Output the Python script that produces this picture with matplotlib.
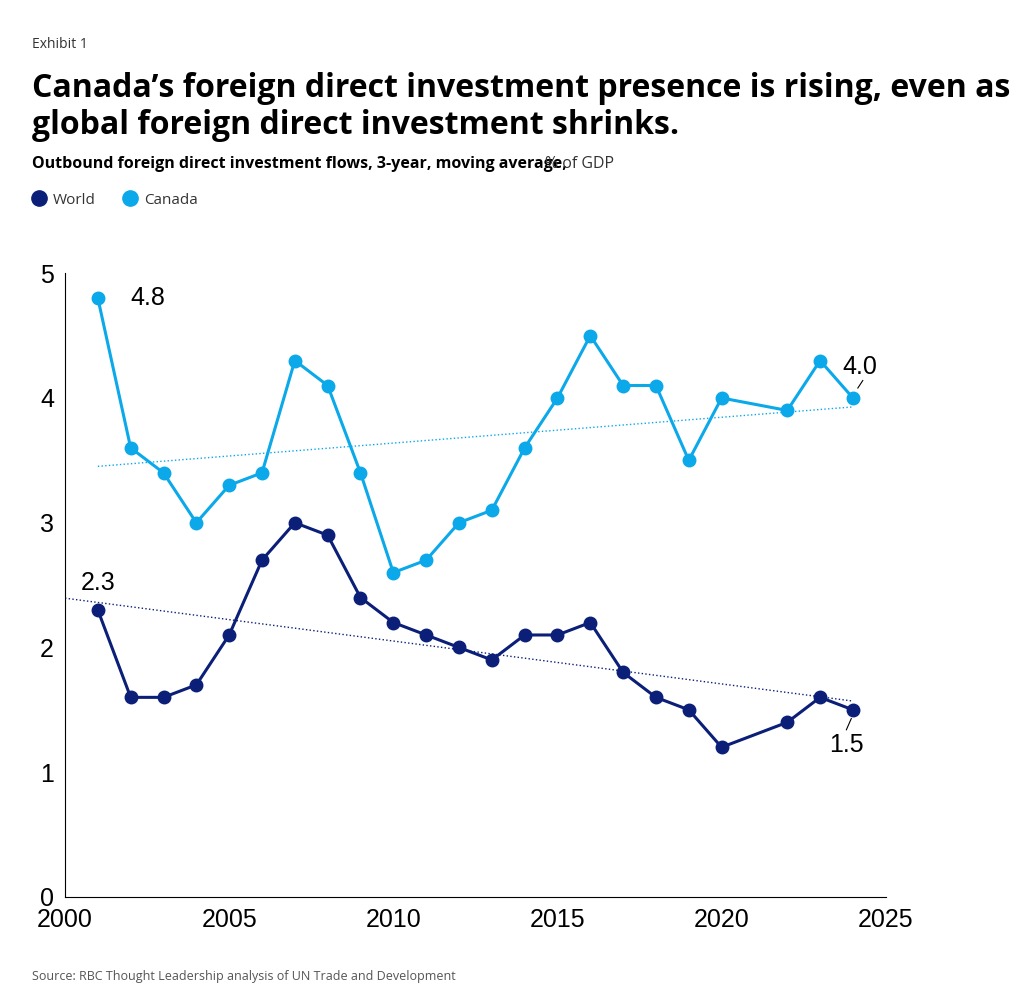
import numpy as np
import matplotlib.pyplot as plt
from matplotlib.lines import Line2D

years = [2001, 2002, 2003, 2004, 2005, 2006, 2007, 2008, 2009, 2010, 2011, 2012,
         2013, 2014, 2015, 2016, 2017, 2018, 2019, 2020, 2022, 2023, 2024]
canada = [4.8, 3.6, 3.4, 3.0, 3.3, 3.4, 4.3, 4.1, 3.4, 2.6, 2.7, 3.0,
          3.1, 3.6, 4.0, 4.5, 4.1, 4.1, 3.5, 4.0, 3.9, 4.3, 4.0]
world = [2.3, 1.6, 1.6, 1.7, 2.1, 2.7, 3.0, 2.9, 2.4, 2.2, 2.1, 2.0,
         1.9, 2.1, 2.1, 2.2, 1.8, 1.6, 1.5, 1.2, 1.4, 1.6, 1.5]

c_world = '#0b1f78'
c_can = '#0ba8ea'

fig = plt.figure(figsize=(10.24, 9.9), dpi=100)
ax = fig.add_axes([0.0635, 0.094, 0.8015, 0.63])

ax.plot(years, canada, '-o', color=c_can, lw=2.2, ms=9, zorder=3)
ax.plot(years, world, '-o', color=c_world, lw=2.2, ms=9, zorder=3)

# trend lines
x = np.array(years)
pc = np.polyfit(x, canada, 1)
pw = np.polyfit(x, world, 1)
xc = np.array([2001, 2024])
xw = np.array([2000, 2024])
ax.plot(xc, np.polyval(pc, xc), ':', color=c_can, lw=1)
ax.plot(xw, np.polyval(pw, xw), ':', color=c_world, lw=1)

ax.text(2002, 4.8, '4.8', fontsize=18, va='center', family='Liberation Sans')
ax.text(2001, 2.52, '2.3', fontsize=18, ha='center', va='center', family='Liberation Sans')
ax.text(2024.2, 4.25, '4.0', fontsize=18, ha='center', va='center', family='Liberation Sans')
ax.plot([2024.15, 2024.3], [4.08, 4.14], color='black', lw=0.8)
ax.text(2023.8, 1.22, '1.5', fontsize=18, ha='center', va='center', family='Liberation Sans')
ax.plot([2023.8, 2023.95], [1.34, 1.43], color='black', lw=0.8)

ax.set_xlim(2000, 2025)
ax.set_ylim(0, 5)
ax.set_xticks([2000, 2005, 2010, 2015, 2020, 2025])
ax.set_yticks([0, 1, 2, 3, 4, 5])
ax.tick_params(length=0, labelsize=18, pad=8)
for lab in ax.get_xticklabels() + ax.get_yticklabels():
    lab.set_family('Liberation Sans')
ax.spines['top'].set_visible(False)
ax.spines['right'].set_visible(False)

fig.text(0.031, 0.952, 'Exhibit 1', fontsize=10, color='#333333', family='Open Sans')
fig.text(0.031, 0.865, 'Canada\u2019s foreign direct investment presence is rising, even as\nglobal foreign direct investment shrinks.',
         fontsize=23, weight='bold', family='Open Sans', linespacing=1.15)
fig.text(0.031, 0.830, 'Outbound foreign direct investment flows, 3-year, moving average,', fontsize=11.5,
         weight='bold', family='Open Sans')
fig.text(0.532, 0.830, '% of GDP', fontsize=11.5, family='Open Sans', color='#333333')
fig.add_artist(Line2D([0.038], [0.8005], marker='o', ms=11, color=c_world, transform=fig.transFigure))
fig.text(0.052, 0.794, 'World', fontsize=11, family='Open Sans', color='#333333')
fig.add_artist(Line2D([0.127], [0.8005], marker='o', ms=11, color=c_can, transform=fig.transFigure))
fig.text(0.141, 0.794, 'Canada', fontsize=11, family='Open Sans', color='#333333')
fig.text(0.031, 0.010, 'Source: RBC Thought Leadership analysis of UN Trade and Development', fontsize=9,
         family='Open Sans', color='#555555')

fig.savefig('out.png', dpi=100)
